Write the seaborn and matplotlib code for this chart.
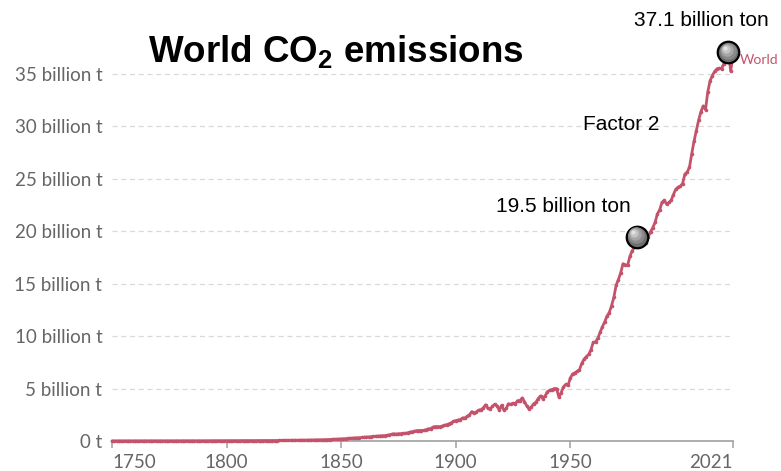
import matplotlib
matplotlib.use("Agg")
import matplotlib.pyplot as plt
import matplotlib.transforms as mtransforms
import seaborn as sns
import pandas as pd
import numpy as np

# ---- data (billion tonnes CO2 per year) ----
years = list(range(1750, 2022))
emissions = [
    # 1750-1799
    0.0094, 0.0094, 0.0095, 0.0095, 0.0096, 0.0096, 0.0098, 0.0098, 0.0099, 0.0099,
    0.0101, 0.0103, 0.0104, 0.0105, 0.0107, 0.0108, 0.0110, 0.0112, 0.0114, 0.0116,
    0.0117, 0.0120, 0.0122, 0.0124, 0.0127, 0.0129, 0.0132, 0.0134, 0.0137, 0.0139,
    0.0142, 0.0145, 0.0150, 0.0155, 0.0162, 0.0170, 0.0177, 0.0185, 0.0190, 0.0195,
    0.0200, 0.0210, 0.0220, 0.0225, 0.0232, 0.0240, 0.0250, 0.0258, 0.0265, 0.0272,
    # 1800-1849
    0.0282, 0.0290, 0.0298, 0.0305, 0.0313, 0.0320, 0.0330, 0.0340, 0.0350, 0.0362,
    0.0378, 0.0385, 0.0390, 0.0395, 0.0400, 0.0410, 0.0415, 0.0420, 0.0425, 0.0430,
    0.0436, 0.0450, 0.0470, 0.0490, 0.0510, 0.0540, 0.0560, 0.0590, 0.0610, 0.0630,
    0.0653, 0.0690, 0.0720, 0.0760, 0.0800, 0.0840, 0.0880, 0.0920, 0.0960, 0.1000,
    0.1040, 0.1100, 0.1150, 0.1220, 0.1300, 0.1400, 0.1500, 0.1620, 0.1750, 0.1850,
    # 1850-1899
    0.197, 0.205, 0.220, 0.240, 0.265, 0.275, 0.295, 0.300, 0.310, 0.335,
    0.364, 0.380, 0.385, 0.410, 0.430, 0.450, 0.465, 0.490, 0.500, 0.520,
    0.533, 0.590, 0.640, 0.690, 0.650, 0.690, 0.700, 0.720, 0.725, 0.780,
    0.850, 0.880, 0.930, 0.990, 1.000, 1.000, 1.010, 1.070, 1.160, 1.170,
    1.320, 1.370, 1.380, 1.370, 1.410, 1.500, 1.550, 1.630, 1.720, 1.860,
    # 1900-1949
    1.95, 2.00, 2.04, 2.20, 2.20, 2.35, 2.50, 2.80, 2.67, 2.78,
    2.95, 2.98, 3.15, 3.45, 3.12, 3.05, 3.30, 3.50, 3.35, 2.95,
    3.40, 2.95, 3.10, 3.55, 3.50, 3.60, 3.55, 3.85, 3.85, 4.10,
    3.75, 3.35, 3.05, 3.25, 3.55, 3.70, 4.05, 4.30, 4.05, 4.30,
    4.70, 4.85, 4.90, 5.00, 5.00, 4.20, 4.60, 5.15, 5.40, 5.30,
    # 1950-1999
    6.00, 6.40, 6.50, 6.65, 6.80, 7.40, 7.80, 8.05, 8.25, 8.70,
    9.40, 9.45, 9.80, 10.35, 10.90, 11.35, 11.90, 12.25, 12.90, 13.70,
    14.85, 15.40, 16.05, 16.90, 16.80, 16.75, 17.60, 18.15, 18.50, 19.45,
    19.35, 18.95, 18.75, 18.85, 19.45, 19.95, 20.35, 20.85, 21.65, 22.05,
    22.75, 22.95, 22.60, 22.75, 22.95, 23.50, 24.00, 24.20, 24.30, 24.55,
    # 2000-2021
    25.45, 25.65, 26.10, 27.40, 28.60, 29.60, 30.60, 31.40, 31.95, 31.60,
    33.30, 34.35, 34.85, 35.25, 35.50, 35.55, 35.50, 36.00, 36.75, 37.08,
    35.26, 36.90,
]

highlight_years = [1979, 2019]
highlight_values = [19.5, 37.1]
highlight_labels = ["19.5 billion ton", "37.1 billion ton"]

yticks = [0, 5, 10, 15, 20, 25, 30, 35]
ytick_labels = ["0 t"] + [f"{v} billion t" for v in yticks[1:]]
xticks = [1750, 1800, 1850, 1900, 1950, 2021]
xtick_labels = ["1750", "1800", "1850", "1900", "1950", "2021"]

df = pd.DataFrame({"year": years, "emissions": emissions})

LINE_COLOR = "#c4526a"
GREY = "#666666"

sns.set_theme(style="white")
plt.rcParams["font.family"] = ["Lato", "DejaVu Sans"]
plt.rcParams["mathtext.fontset"] = "custom"
plt.rcParams["mathtext.rm"] = "Liberation Sans:bold"
plt.rcParams["mathtext.it"] = "Liberation Sans:bold"
plt.rcParams["mathtext.bf"] = "Liberation Sans:bold"

fig = plt.figure(figsize=(7.81, 4.71), dpi=100)
W, H = 781, 471
x0, x1 = 112, 733
y0_px, ytop_val = 441, 38.0
px_per_unit = (441 - 74) / 35.0
ytop_px = y0_px - ytop_val * px_per_unit
ax = fig.add_axes([x0 / W, (H - y0_px) / H, (x1 - x0) / W, (y0_px - ytop_px) / H])

sns.lineplot(data=df, x="year", y="emissions", ax=ax, color=LINE_COLOR,
             linewidth=2.0, marker="o", markersize=2.6, markeredgewidth=0,
             clip_on=False, zorder=3)

ax.set_xlim(1750, 2021)
ax.set_ylim(0, ytop_val)
ax.set_xlabel("")
ax.set_ylabel("")

# grid
for v in yticks[1:]:
    ax.axhline(v, color="#d9d9d9", linewidth=0.9, linestyle=(0, (4, 3)), zorder=1)

for s in ["top", "right", "left"]:
    ax.spines[s].set_visible(False)
ax.spines["bottom"].set_color("#a0a0a0")
ax.spines["bottom"].set_linewidth(1.2)

ax.set_yticks(yticks)
ax.set_yticklabels(ytick_labels, color=GREY, fontsize=13.5)
ax.tick_params(axis="y", length=0, pad=7)
ax.set_xticks(xticks)
ax.set_xticklabels(xtick_labels, color=GREY, fontsize=13.5)
ax.tick_params(axis="x", length=5, width=1.1, color="#a0a0a0", pad=4, bottom=True)
labs = ax.get_xticklabels()
labs[0].set_horizontalalignment("left")
labs[-1].set_horizontalalignment("right")

# highlight markers with a simple shaded look
for yr, val in zip(highlight_years, highlight_values):
    ax.plot(yr, val, marker="o", markersize=15.5, markerfacecolor="#6e6e6e",
            markeredgecolor="black", markeredgewidth=1.6, clip_on=False, zorder=5)
    for k, (ms, col) in enumerate([(12, "#8a8a8a"), (9, "#a6a6a6"), (6, "#c4c4c4"), (3, "#e2e2e2")]):
        tr = mtransforms.offset_copy(ax.transData, fig=fig, x=-0.6 * (k + 1), y=0.8 * (k + 1), units="points")
        ax.plot(yr, val, marker="o", markersize=ms, markerfacecolor=col,
                markeredgewidth=0, transform=tr, clip_on=False, zorder=6)

# text
fig.text(148 / W, 1 - 52 / H, r"World CO$_{2}$ emissions", fontsize=26.5, fontweight="bold",
         family="Liberation Sans", color="black", va="center", ha="left")
fig.text(701 / W, 1 - 20 / H, highlight_labels[1], fontsize=15, family="Liberation Sans",
         color="black", va="center", ha="center")
fig.text(621 / W, 1 - 125 / H, "Factor 2", fontsize=15, family="Liberation Sans",
         color="black", va="center", ha="center")
fig.text(563 / W, 1 - 207 / H, highlight_labels[0], fontsize=15, family="Liberation Sans",
         color="black", va="center", ha="center")
fig.text(740 / W, 1 - 60 / H, "World", fontsize=10, color=LINE_COLOR, va="center", ha="left")

fig.savefig("out.png", dpi=100, facecolor="white")
